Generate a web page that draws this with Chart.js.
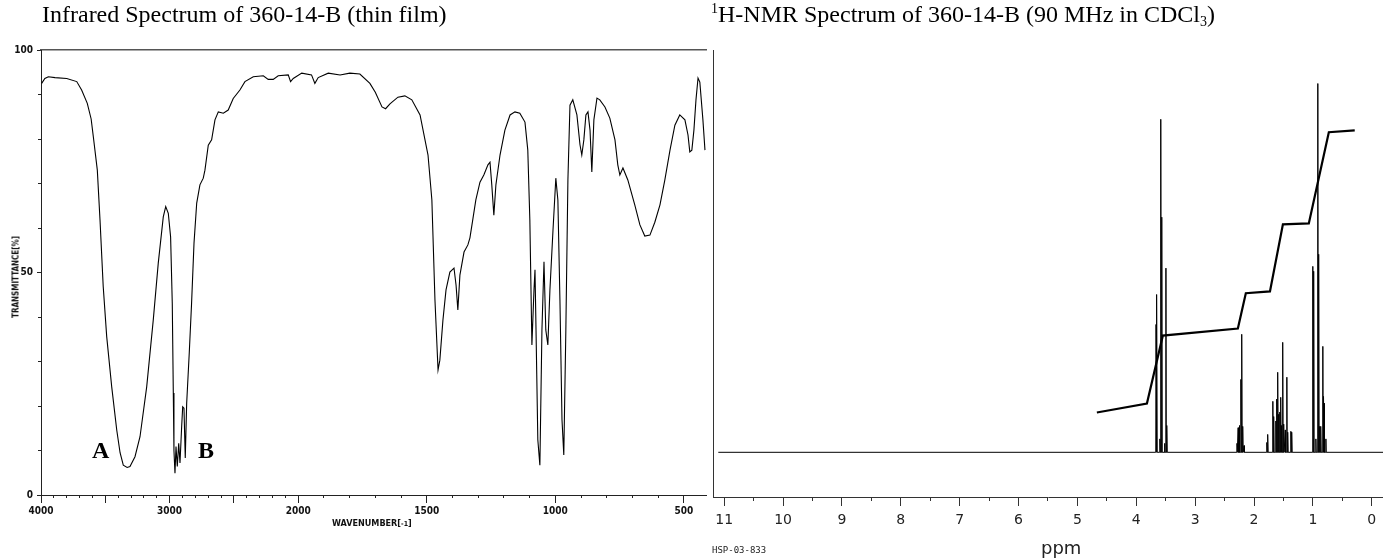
<!DOCTYPE html>
<html>
<head>
<meta charset="utf-8">
<script src="https://cdn.jsdelivr.net/npm/chart.js@4.4.1/dist/chart.umd.min.js"></script>
<style>
  body { margin: 0; width: 1383px; height: 560px; background: #fff; position: relative; overflow: hidden; }
  canvas { position: absolute; top: 0; }
  .txt { position: absolute; white-space: nowrap; color: #000; }
  .title { font-family: 'Liberation Serif', 'Times New Roman', serif; font-size: 24px; line-height: 24px; top: 2px; }
  .title sup, .title sub { font-size: 14px; line-height: 0; position: relative; vertical-align: baseline; }
  .title sup { top: -9px; }
  .title sub { top: 4px; }
  .peak { font-family: 'Liberation Serif', 'Times New Roman', serif; font-size: 24px; line-height: 24px; font-weight: bold; top: 438px; }
  .small { font-family: 'Liberation Sans Narrow', 'DejaVu Sans Condensed', 'Arial Narrow', sans-serif; font-weight: bold; color: #111; }
</style>
</head>
<body>
<canvas id="ir" width="712" height="560" style="left:0"></canvas>
<canvas id="nmr" width="683" height="560" style="left:700px"></canvas>

<div class="txt title" style="left:42px">Infrared Spectrum of 360-14-B (thin film)</div>
<div class="txt title" style="left:711px"><sup>1</sup>H-NMR Spectrum of 360-14-B (90 MHz in CDCl<sub>3</sub>)</div>
<div class="txt peak" style="left:92px">A</div>
<div class="txt peak" style="left:198px">B</div>
<div class="txt small" style="left:332px;top:518px;font-size:9px">WAVENUMBER[<span style="font-size:7px">-1</span>]</div>
<div class="txt small" style="left:16px;top:277px;font-size:8px;transform:translate(-50%,-50%) rotate(-90deg)">TRANSMITTANCE[%]</div>
<div class="txt" style="left:1041px;top:537px;font-family:'DejaVu Sans',sans-serif;font-size:18px;color:#222">ppm</div>
<div class="txt" style="left:712px;top:545px;font-family:'DejaVu Sans Mono',monospace;font-size:9px;color:#222">HSP-03-833</div>

<script>
// ---- IR data (wavenumber cm-1, %T) ----
const irWavenumber = [
  3995, 3970, 3943, 3891, 3800, 3722, 3684, 3640, 3610, 3593, 3562, 3541, 3516, 3489, 3450, 3411,
  3385, 3360, 3330, 3308, 3269, 3230, 3178, 3127, 3088, 3049, 3030, 3010, 2992, 2979, 2971, 2966,
  2958, 2950, 2940, 2929, 2919, 2906, 2898, 2888, 2878, 2867, 2847, 2829, 2810, 2789, 2764, 2738,
  2725, 2699, 2673, 2647, 2621, 2582, 2544, 2505, 2453, 2414, 2349, 2271, 2233, 2194, 2155, 2077,
  2059, 2038, 1986, 1948, 1935, 1922, 1883, 1837, 1799, 1760, 1721, 1700, 1674, 1660, 1643, 1612,
  1585, 1558, 1526, 1495, 1480, 1468, 1456, 1449, 1437, 1425, 1410, 1394, 1386, 1379, 1371, 1355,
  1340, 1332, 1320, 1309, 1293, 1278, 1262, 1254, 1247, 1239, 1231, 1215, 1196, 1176, 1157, 1138,
  1118, 1107, 1099, 1091, 1083, 1079, 1075, 1068, 1060, 1052, 1044, 1037, 1029, 1021, 1009, 998,
  990, 982, 974, 967, 959, 951, 943, 932, 916, 904, 897, 889, 881, 873, 865, 858,
  850, 838, 827, 807, 788, 768, 757, 749, 737, 718, 691, 671, 652, 632, 613, 593,
  574, 554, 535, 516, 496, 484, 477, 469, 461, 453, 445, 438, 426, 418
];
const irTransmittance = [
  92.5, 93.6, 94.0, 93.8, 93.6, 92.9, 91.0, 88.0, 84.5, 80.5, 73.0, 61.8, 46.8, 35.6, 24.3, 14.6,
  9.5, 6.7, 6.2, 6.4, 8.6, 13.1, 24.3, 39.3, 52.1, 62.5, 64.8, 63.3, 58.0, 43.0, 22.9, 10.0,
  4.9, 10.9, 6.4, 11.6, 7.2, 15.4, 19.8, 19.5, 8.3, 20.6, 31.9, 43.0, 56.6, 65.6, 69.7, 71.2,
  73.0, 78.6, 79.8, 84.3, 86.1, 85.8, 86.5, 89.1, 91.0, 92.9, 94.0, 94.2, 93.4, 93.4, 94.2, 94.4,
  92.9, 93.6, 94.8, 94.4, 92.5, 93.8, 94.8, 94.4, 94.8, 94.6, 92.5, 90.5, 87.2, 86.8, 87.9, 89.4,
  89.7, 88.8, 85.4, 76.4, 66.3, 43.8, 28.1, 30.3, 39.3, 46.1, 50.1, 51.0, 47.2, 41.6, 49.4, 54.6,
  56.2, 57.8, 62.2, 66.3, 70.3, 71.9, 74.2, 74.8, 69.7, 62.9, 69.7, 76.4, 82.0, 85.4, 86.1, 85.8,
  83.8, 77.5, 61.8, 33.7, 46.0, 50.6, 37.1, 12.4, 6.7, 37.1, 52.4, 37.1, 33.7, 46.0, 59.5, 71.2,
  66.3, 43.8, 16.9, 9.0, 37.1, 70.8, 87.6, 88.8, 85.4, 78.7, 76.4, 79.8, 85.4, 86.1, 82.0, 72.6,
  84.3, 89.2, 88.8, 87.2, 84.7, 79.8, 74.2, 71.9, 73.5, 70.8, 65.2, 60.7, 58.2, 58.4, 61.3, 65.2,
  70.8, 77.5, 83.1, 85.4, 84.3, 80.9, 77.1, 77.5, 82.0, 88.8, 93.7, 92.8, 84.3, 77.5
];
const irMajorTicks = [4000, 3500, 3000, 2500, 2000, 1500, 1000, 500];
const irTickLabels = [4000, 3000, 2000, 1500, 1000, 500];
const irMinorTicks = [];
for (let w = 4000; w >= 500; w -= 100) irMinorTicks.push(w);
const irYLabels = [0, 50, 100];
const irYMinor = [0, 10, 20, 30, 40, 60, 70, 80, 90, 100];

// ---- NMR data (ppm) ----
const nmrPeakPpm = [
  3.665, 3.650, 3.600, 3.582, 3.565, 3.520, 3.497, 3.480,
  2.290, 2.270, 2.250, 2.224, 2.207, 2.190, 2.170,
  1.783, 1.766, 1.681, 1.664, 1.630, 1.613, 1.596, 1.579, 1.560, 1.545, 1.530, 1.511, 1.494, 1.470, 1.443, 1.426, 1.375, 1.358,
  1.002, 0.985, 0.950, 0.917, 0.900, 0.883, 0.865, 0.832, 0.822, 0.815, 0.805, 0.780
];
const nmrPeakHeight = [
  28.6, 35.3, 3.0, 74.5, 52.6, 2.0, 41.2, 6.0,
  2.0, 5.5, 6.0, 16.3, 26.4, 5.8, 1.5,
  2.2, 4.0, 11.4, 8.0, 7.0, 11.9, 17.9, 8.5, 9.0, 12.3, 6.0, 24.6, 6.3, 5.0, 16.8, 4.5, 4.7, 4.5,
  41.6, 40.5, 3.0, 82.5, 44.3, 5.8, 5.8, 23.7, 12.5, 12.3, 11.0, 3.0
];
const nmrIntegralPpm = [4.67, 3.82, 3.55, 2.275, 2.14, 1.73, 1.51, 1.07, 0.73, 0.29];
const nmrIntegralValue = [8.9, 10.9, 26.1, 27.7, 35.6, 36.0, 51.0, 51.2, 71.6, 72.0];
const nmrMajorTicks = [0, 1, 2, 3, 4, 5, 6, 7, 8, 9, 10, 11];
const nmrMinorTicks = [0.5, 1.5, 2.5, 3.5, 4.5, 5.5, 6.5, 7.5, 8.5, 9.5, 10.5];

// IR x axis is compressed 2:1 above 2000 cm-1
function irAxisPos(w) { return w >= 2000 ? 4000 - w : 2000 + 2 * (2000 - w); }
function irAxisWave(u) { return u <= 2000 ? 4000 - u : 2000 - (u - 2000) / 2; }

const smallFont = { family: "'Liberation Sans Narrow', 'DejaVu Sans Condensed', 'Arial Narrow', sans-serif", size: 10, weight: 'bold' };
const irMin = 0, irMax = irAxisPos(414);

function fixedTicks(list) {
  return s => { s.ticks = list.map(v => ({ value: v })); };
}

new Chart(document.getElementById('ir'), {
  type: 'line',
  data: {
    datasets: [{
      data: irWavenumber.map((w, i) => ({ x: irAxisPos(w), y: irTransmittance[i] })),
      borderColor: '#000',
      borderWidth: 1.1,
      pointRadius: 0,
      tension: 0
    }]
  },
  options: {
    responsive: false,
    animation: false,
    devicePixelRatio: 1,
    layout: { padding: { top: 50, right: 6, left: 0, bottom: 0 } },
    plugins: { legend: { display: false }, tooltip: { enabled: false } },
    scales: {
      x: {
        type: 'linear', position: 'bottom', min: irMin, max: irMax, weight: 1,
        afterBuildTicks: fixedTicks(irMajorTicks.map(irAxisPos)),
        afterFit: s => { s.height = 65; },
        grid: { drawOnChartArea: false, tickLength: 8, color: '#222' },
        border: { color: '#222', width: 1 },
        ticks: {
          autoSkip: false, maxRotation: 0, padding: 2, color: '#111', font: smallFont,
          callback: v => { const w = Math.round(irAxisWave(v)); return irTickLabels.includes(w) ? String(w) : ''; }
        }
      },
      xMinor: {
        type: 'linear', position: 'bottom', min: irMin, max: irMax, weight: 0,
        afterBuildTicks: fixedTicks(irMinorTicks.map(irAxisPos)),
        afterFit: s => { s.height = 0; },
        grid: { drawOnChartArea: false, tickLength: 3, color: '#222' },
        border: { display: false },
        ticks: { display: false, autoSkip: false }
      },
      xTop: {
        type: 'linear', position: 'top', min: irMin, max: irMax,
        afterFit: s => { s.height = 0; },
        grid: { display: false },
        border: { color: '#555', width: 1.5 },
        ticks: { display: false }
      },
      y: {
        type: 'linear', position: 'left', min: 0, max: 100, weight: 1,
        afterBuildTicks: fixedTicks(irYLabels),
        afterFit: s => { s.width = 41; },
        grid: { drawOnChartArea: false, tickLength: 4, color: '#222' },
        border: { color: '#222', width: 1 },
        ticks: { padding: 4, color: '#111', font: smallFont }
      },
      yMinor: {
        type: 'linear', position: 'left', min: 0, max: 100, weight: 0,
        afterBuildTicks: fixedTicks(irYMinor),
        afterFit: s => { s.width = 0; },
        grid: { drawOnChartArea: false, tickLength: 3, color: '#222' },
        border: { display: false },
        ticks: { display: false }
      }
    }
  }
});

// NMR spectrum: flat baseline with narrow line-shaped peaks
const nmrOrder = nmrPeakPpm.map((p, i) => i).sort((a, b) => nmrPeakPpm[b] - nmrPeakPpm[a]);
const nmrSpectrum = [{ x: 11.1, y: 0 }];
nmrOrder.forEach(i => {
  const p = nmrPeakPpm[i];
  nmrSpectrum.push({ x: p + 0.005, y: 0 }, { x: p, y: nmrPeakHeight[i] }, { x: p - 0.005, y: 0 });
});
nmrSpectrum.push({ x: -0.2, y: 0 });

const nmrMin = -0.19, nmrMax = 11.19;
new Chart(document.getElementById('nmr'), {
  type: 'line',
  data: {
    datasets: [
      { data: nmrSpectrum, borderColor: '#000', borderWidth: 1, pointRadius: 0, tension: 0 },
      {
        data: nmrIntegralPpm.map((p, i) => ({ x: p, y: nmrIntegralValue[i] })),
        borderColor: '#000', borderWidth: 2.2, pointRadius: 0, tension: 0
      }
    ]
  },
  options: {
    responsive: false,
    animation: false,
    devicePixelRatio: 1,
    layout: { padding: { top: 50, right: 0, left: 0, bottom: 0 } },
    plugins: { legend: { display: false }, tooltip: { enabled: false } },
    scales: {
      x: {
        type: 'linear', reverse: true, position: 'bottom', min: nmrMin, max: nmrMax, weight: 1,
        afterBuildTicks: fixedTicks(nmrMajorTicks),
        afterFit: s => { s.height = 63; },
        grid: { drawOnChartArea: false, tickLength: 9, color: '#333' },
        border: { color: '#333', width: 1 },
        ticks: { autoSkip: false, maxRotation: 0, padding: 6, color: '#222', font: { family: "'DejaVu Sans', sans-serif", size: 14 } }
      },
      xMinor: {
        type: 'linear', reverse: true, position: 'bottom', min: nmrMin, max: nmrMax, weight: 0,
        afterBuildTicks: fixedTicks(nmrMinorTicks),
        afterFit: s => { s.height = 0; },
        grid: { drawOnChartArea: false, tickLength: 4, color: '#333' },
        border: { display: false },
        ticks: { display: false, autoSkip: false }
      },
      y: {
        type: 'linear', position: 'left', min: -10, max: 90,
        afterFit: s => { s.width = 13; },
        grid: { display: false },
        border: { color: '#333', width: 1 },
        ticks: { display: false }
      }
    }
  }
});
</script>
</body>
</html>
